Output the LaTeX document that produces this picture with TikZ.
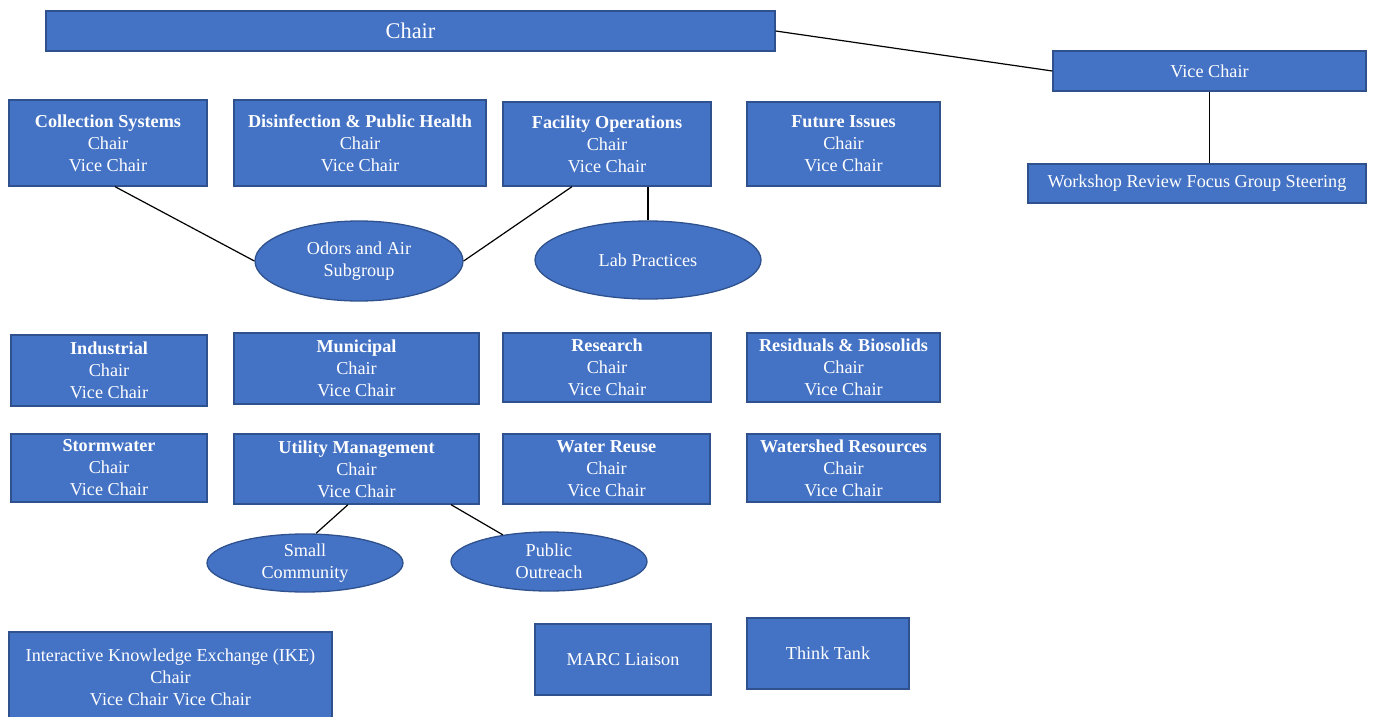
\documentclass[tikz,border=0pt]{standalone}
\usepackage{fontspec}
\setmainfont{Liberation Serif}
\usetikzlibrary{shapes.geometric}
\definecolor{boxfill}{HTML}{4472C4}
\definecolor{boxline}{HTML}{2F528F}
\tikzset{
  orgbox/.style={draw=boxline, line width=1.3pt, fill=boxfill, text=white, align=center,
    inner sep=0pt, font=\fontsize{18.2}{22}\selectfont},
  orgell/.style={ellipse, draw=boxline, line width=1.3pt, fill=boxfill, text=white, align=center,
    inner sep=0pt, font=\fontsize{18.2}{22}\selectfont},
  link/.style={draw=black, line width=1.2pt}
}
\begin{document}
\begin{tikzpicture}[x=1pt,y=-1pt]
\useasboundingbox (0,0) rectangle (1376,717);
% top
\node[orgbox, minimum width=729pt, minimum height=40pt, font=\fontsize{22.4}{26}\selectfont] (chair) at (410.5,31) {Chair};
\node[orgbox, minimum width=313pt, minimum height=40pt] (vc) at (1209.5,71) {Vice Chair};
\node[orgbox, minimum width=338pt, minimum height=39pt] (ws) at (1197,183.5) {Workshop Review Focus Group Steering};
% row 1
\node[orgbox, minimum width=198pt, minimum height=86pt] (cs) at (108,143) {\textbf{Collection Systems}\\Chair\\Vice Chair};
\node[orgbox, minimum width=252pt, minimum height=86pt] (dis) at (360,143) {\textbf{Disinfection \& Public Health}\\Chair\\Vice Chair};
\node[orgbox, minimum width=208pt, minimum height=84pt] (fo) at (607,144) {\textbf{Facility Operations}\\Chair\\Vice Chair};
\node[orgbox, minimum width=193pt, minimum height=84pt] (fi) at (843.5,144) {\textbf{Future Issues}\\Chair\\Vice Chair};
% ellipses
\node[orgell, minimum width=208pt, minimum height=80pt] (odors) at (359,261) {Odors and Air\\Subgroup};
\node[orgell, minimum width=226pt, minimum height=78pt] (lab) at (648,260) {Lab Practices};
% row 2
\node[orgbox, minimum width=196pt, minimum height=71pt] (ind) at (109,370.5) {\textbf{Industrial}\\Chair\\Vice Chair};
\node[orgbox, minimum width=245pt, minimum height=71pt] (mun) at (356.5,368.5) {\textbf{Municipal}\\Chair\\Vice Chair};
\node[orgbox, minimum width=208pt, minimum height=69pt] (res) at (607,367.5) {\textbf{Research}\\Chair\\Vice Chair};
\node[orgbox, minimum width=193pt, minimum height=69pt] (rb) at (843.5,367.5) {\textbf{Residuals \& Biosolids}\\Chair\\Vice Chair};
% row 3
\node[orgbox, minimum width=196pt, minimum height=68pt] (sw) at (109,468) {\textbf{Stormwater}\\Chair\\Vice Chair};
\node[orgbox, minimum width=245pt, minimum height=70pt] (um) at (356.5,469) {\textbf{Utility Management}\\Chair\\Vice Chair};
\node[orgbox, minimum width=207pt, minimum height=70pt] (wr) at (606.5,469) {\textbf{Water Reuse}\\Chair\\Vice Chair};
\node[orgbox, minimum width=193pt, minimum height=68pt] (wsr) at (843.5,468) {\textbf{Watershed Resources}\\Chair\\Vice Chair};
% sub ellipses
\node[orgell, minimum width=196pt, minimum height=58pt] (sc) at (305,563) {Small\\Community};
\node[orgell, minimum width=196pt, minimum height=59pt] (po) at (549,561.5) {Public\\Outreach};
% bottom
\node[orgbox, minimum width=323pt, minimum height=90pt] (ike) at (170.5,677) {Interactive Knowledge Exchange (IKE)\\Chair\\Vice Chair Vice Chair};
\node[orgbox, minimum width=176pt, minimum height=71pt] (marc) at (623,659.5) {MARC Liaison};
\node[orgbox, minimum width=162pt, minimum height=71pt] (tt) at (828,653.5) {Think Tank};
% connectors
\draw[link] (chair.east) -- (vc.west);
\draw[link] (vc.south) -- (vc.south |- ws.north);
\draw[link] ([xshift=7pt]cs.south) -- (odors.west);
\draw[link] ([xshift=-35pt]fo.south) -- (odors.east);
\draw[link] (lab.north |- fo.south) -- (lab.north);
\draw[link] ([xshift=-8.5pt]um.south) -- ([xshift=11pt]sc.north);
\draw[link] ([xshift=94.5pt]um.south) -- (po.150);
\end{tikzpicture}
\end{document}
